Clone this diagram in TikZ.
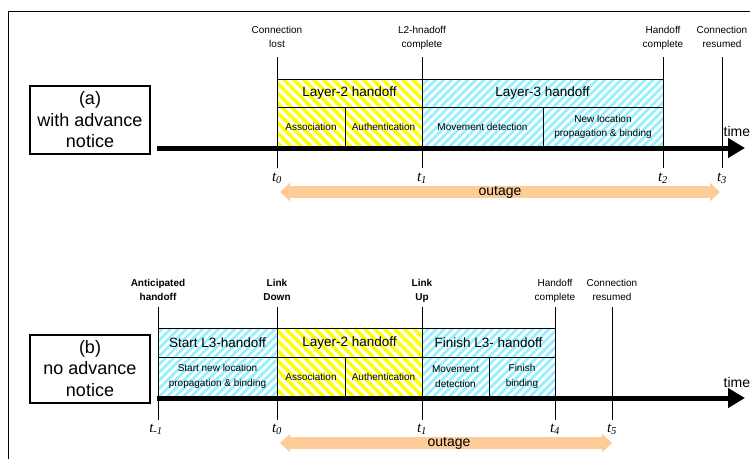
\documentclass[tikz,border=0pt]{standalone}
\usepackage{fontspec}
\setmainfont{Liberation Sans}
\newfontfamily\tfont{Liberation Serif}
\usepackage{tikz}
\usetikzlibrary{arrows.meta,positioning,patterns.meta}

\definecolor{l2yellow}{RGB}{255,255,0}
\definecolor{l3cyan}{RGB}{150,240,255}
\definecolor{outpeach}{RGB}{253,204,153}

\begin{document}
\begin{tikzpicture}[x=1pt,y=-1pt,
  l2/.style={draw,line width=0.8pt,inner sep=0pt,outer sep=0pt,anchor=north west,align=center,
    pattern={Lines[angle=-45,distance=7pt,line width=3.5pt]},pattern color=l2yellow},
  l3/.style={draw,line width=0.8pt,inner sep=0pt,outer sep=0pt,anchor=north west,align=center,
    pattern={Lines[angle=45,distance=5.7pt,line width=2.8pt]},pattern color=l3cyan},
  head/.style={font=\fontsize{13.5}{15}\selectfont,minimum height=28.5pt},
  sub/.style={font=\fontsize{10}{14.5}\selectfont,minimum height=39pt},
  lbl/.style={font=\fontsize{10}{14}\selectfont,align=center,inner sep=0pt,text depth=0pt},
  tlbl/.style={font=\tfont\itshape\fontsize{15}{15}\selectfont,inner sep=0pt},
  tick/.style={line width=0.9pt},
  axis/.style={line width=5pt,-{Triangle[width=19pt,length=17pt]}},
  outage/.style={line width=12pt,draw=outpeach,{Triangle[width=18pt,length=10pt]}-{Triangle[width=18pt,length=10pt]}},
  case/.style={draw,line width=2pt,minimum width=120pt,minimum height=68pt,align=center,
    font=\fontsize{18}{21.5}\selectfont},
  timelbl/.style={font=\fontsize{14}{14}\selectfont,anchor=west,inner sep=0pt}]
\useasboundingbox (0,0) rectangle (750,459);

\coordinate (fb) at (8,459);
\coordinate (fr) at (750,11);
\draw[line width=0.8pt] (fb) |- (fr);

% (a) with advance notice
\node[case] (ca) at (90,120) {(a)\\with advance\\notice};
\coordinate (as) at (157,148);
\coordinate (ae) at (745,148);
\coordinate (aol) at (280,192);
\coordinate (aor) at (720,192);
\draw[outage] (aol) -- node[font=\fontsize{14}{14}\selectfont] (aout) {outage} (aor);

\node[l2,head,minimum width=145pt] (al2) at (277,79) {Layer-2 handoff};
\node[l2,sub,minimum width=68pt] (aas) at (al2.south west) {Association};
\node[l2,sub,minimum width=77pt] (aau) at (aas.north east) {Authentication};
\node[l3,head,minimum width=241pt] (al3) at (al2.north east) {Layer-3 handoff};
\node[l3,sub,minimum width=121pt] (amd) at (al3.south west) {Movement detection};
\node[l3,sub,minimum width=120pt] (anl) at (amd.north east) {New location\\propagation \& binding};

\draw[axis] (as) -- (ae);
\node[timelbl] (atime) at (723.5,131) {time};

\foreach \n/\x in {0/277,1/422,2/663,3/722}{
  \coordinate (a\n t) at (\x,57);
  \coordinate (a\n b) at (\x,168);
  \draw[tick] (a\n t) -- (a\n b);
  \node[tlbl,below=5pt of a\n b] (ta\n) {t\textsubscript{\n}};
}
\node[lbl,above=9pt of a0t] (la0) {Connection\\lost};
\node[lbl,above=9pt of a1t] (la1) {L2-hnadoff\\complete};
\node[lbl,above=9pt of a2t] (la2) {Handoff\\complete};
\node[lbl,above=9pt of a3t] (la3) {Connection\\resumed};

% (b) no advance notice
\node[case] (cb) at (90,368.5) {(b)\\no advance\\notice};
\coordinate (bs) at (157,398);
\coordinate (be) at (745,398);
\coordinate (bol) at (280,443);
\coordinate (bor) at (612,443);
\draw[outage] (bol) -- node[font=\fontsize{14}{14}\selectfont,xshift=3pt] (bout) {outage} (bor);

\node[l3,head,minimum width=119pt] (bs3) at (158,328.5) {Start L3-handoff};
\node[l3,sub,minimum width=119pt] (bsn) at (bs3.south west) {Start new location\\propagation \& binding};
\node[l2,head,minimum width=145pt] (bl2) at (bs3.north east) {Layer-2 handoff};
\node[l2,sub,minimum width=68pt] (bas) at (bl2.south west) {Association};
\node[l2,sub,minimum width=77pt] (bau) at (bas.north east) {Authentication};
\node[l3,head,minimum width=133pt] (bf3) at (bl2.north east) {Finish L3- handoff};
\node[l3,sub,minimum width=67pt] (bmd) at (bf3.south west) {Movement\\detection};
\node[l3,sub,minimum width=66pt] (bfb) at (bmd.north east) {Finish\\binding};

\draw[axis] (bs) -- (be);
\node[timelbl] (btime) at (723.5,382) {time};

\foreach \n/\x in {m/158,0/277,1/422,4/555,5/612}{
  \coordinate (b\n t) at (\x,307);
  \coordinate (b\n b) at (\x,420);
  \draw[tick] (b\n t) -- (b\n b);
}
\node[tlbl,below=4pt of bmb,xshift=-2pt] (tbm) {t\textsubscript{-1}};
\foreach \n in {0,1,4,5}{
  \node[tlbl,below=4pt of b\n b] (tb\n) {t\textsubscript{\n}};
}
\node[lbl,font=\bfseries\fontsize{10}{14}\selectfont,above=6pt of bmt] (lbm) {Anticipated\\handoff};
\node[lbl,font=\bfseries\fontsize{10}{14}\selectfont,above=6pt of b0t] (lb0) {Link\\Down};
\node[lbl,font=\bfseries\fontsize{10}{14}\selectfont,above=6pt of b1t] (lb1) {Link\\Up};
\node[lbl,above=6pt of b4t] (lb4) {Handoff\\complete};
\node[lbl,above=6pt of b5t] (lb5) {Connection\\resumed};
\end{tikzpicture}
\end{document}
